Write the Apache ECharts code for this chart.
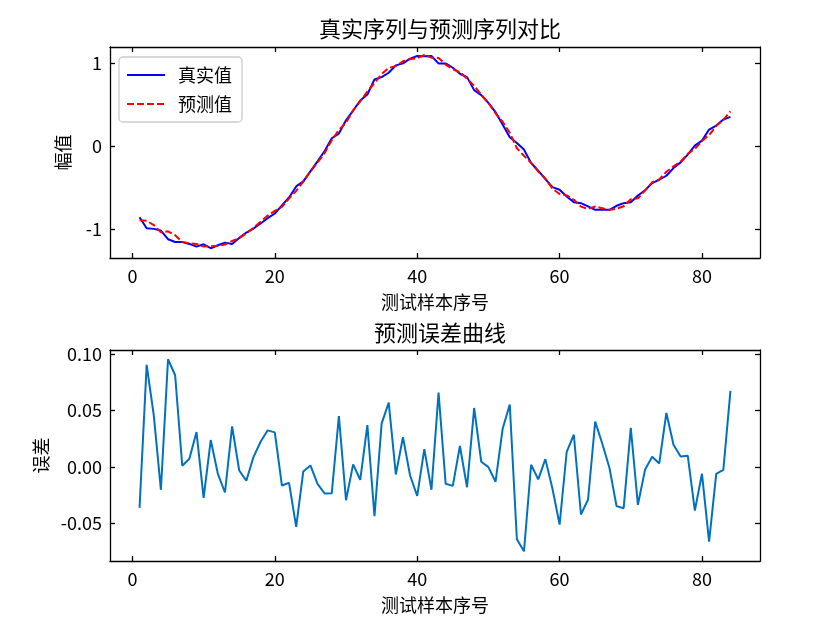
<!DOCTYPE html>
<html>
<head>
<meta charset="utf-8">
<script src="https://cdn.jsdelivr.net/npm/echarts@6/dist/echarts.min.js"></script>
<style>
html, body { margin: 0; padding: 0; background: #fff; }
#main { width: 840px; height: 630px; }
</style>
</head>
<body>
<div id="main"></div>
<script>
// 真实值
var trueVals = [
  -0.857, -0.990, -0.998, -1.018, -1.123, -1.156, -1.156, -1.180, -1.212, -1.184,
  -1.232, -1.196, -1.164, -1.180, -1.107, -1.042, -0.994, -0.933, -0.869, -0.812,
  -0.715, -0.618, -0.485, -0.424, -0.303, -0.182, -0.057, 0.097, 0.154, 0.315,
  0.432, 0.554, 0.626, 0.808, 0.836, 0.889, 0.978, 1.002, 1.059, 1.091,
  1.087, 1.091, 1.002, 1.002, 0.949, 0.877, 0.836, 0.679, 0.618, 0.525,
  0.412, 0.263, 0.109, 0.040, -0.040, -0.202, -0.295, -0.396, -0.493, -0.525,
  -0.606, -0.675, -0.687, -0.727, -0.768, -0.768, -0.768, -0.719, -0.687, -0.675,
  -0.594, -0.533, -0.444, -0.404, -0.356, -0.263, -0.194, -0.101, 0.008, 0.069,
  0.202, 0.251, 0.323, 0.356
];
// 预测值
var predVals = [
  -0.893, -0.900, -0.952, -1.038, -1.028, -1.075, -1.155, -1.173, -1.181, -1.212,
  -1.208, -1.202, -1.187, -1.144, -1.110, -1.054, -0.985, -0.911, -0.837, -0.781,
  -0.732, -0.632, -0.538, -0.428, -0.302, -0.197, -0.081, 0.074, 0.199, 0.285,
  0.434, 0.542, 0.663, 0.764, 0.874, 0.946, 0.971, 1.028, 1.051, 1.065,
  1.103, 1.071, 1.068, 0.987, 0.932, 0.895, 0.818, 0.731, 0.622, 0.525,
  0.399, 0.297, 0.164, -0.024, -0.115, -0.200, -0.306, -0.389, -0.513, -0.576,
  -0.593, -0.647, -0.729, -0.756, -0.728, -0.748, -0.769, -0.754, -0.724, -0.640,
  -0.628, -0.536, -0.435, -0.401, -0.308, -0.243, -0.185, -0.091, -0.031, 0.063,
  0.136, 0.245, 0.320, 0.423
];
// 预测误差 (bottom panel)
var errVals = [
  -0.0364, 0.0903, 0.0456, -0.0204, 0.0953, 0.0811, 0.0009, 0.0071, 0.0308, -0.0275,
  0.0237, -0.0062, -0.0228, 0.0358, -0.0033, -0.0124, 0.0086, 0.0222, 0.0323, 0.0305,
  -0.0166, -0.0142, -0.0533, -0.0041, 0.0012, -0.0151, -0.0237, -0.0234, 0.0450, -0.0296,
  0.0021, -0.0115, 0.0370, -0.0438, 0.0382, 0.0568, -0.0068, 0.0263, -0.0077, -0.0258,
  0.0157, -0.0204, 0.0657, -0.0151, -0.0169, 0.0184, -0.0181, 0.0521, 0.0044, -0.0003,
  -0.0133, 0.0337, 0.0551, -0.0642, -0.0749, 0.0018, -0.0112, 0.0068, -0.0195, -0.0512,
  0.0133, 0.0284, -0.0423, -0.0290, 0.0400, 0.0204, -0.0009, -0.0349, -0.0367, 0.0346,
  -0.0337, -0.0027, 0.0089, 0.0030, 0.0477, 0.0195, 0.0092, 0.0098, -0.0388, -0.0062,
  -0.0663, -0.0062, -0.0027, 0.0672
];
var xTicks = [0, 20, 40, 60, 80];
var yTicksTop = [-1, 0, 1];
var yTicksBottom = [-0.05, 0, 0.05, 0.1];

var FONT = '"Noto Sans CJK SC", "Noto Sans", sans-serif';

function pairs(vals) {
  var out = [];
  for (var i = 0; i < vals.length; i++) {
    out.push([i + 1, vals[i]]);
  }
  return out;
}

// one axis per side so every side gets inward ticks like the original
function makeX(grid, pos, ticks, showLabel, name) {
  return {
    type: 'value', gridIndex: grid, position: pos,
    min: -3.15, max: 88.15,
    name: name || '', nameLocation: 'middle', nameGap: 35,
    nameTextStyle: {fontFamily: FONT, fontSize: 18, color: '#000'},
    axisLine: {show: true, onZero: false, lineStyle: {color: '#000', width: 1.3}},
    axisTick: {show: true, inside: true, length: 5, customValues: ticks, lineStyle: {color: '#000', width: 1.3}},
    axisLabel: {show: showLabel, customValues: ticks, margin: 9, fontFamily: FONT, fontSize: 18, color: '#000'},
    splitLine: {show: false}
  };
}

function makeY(grid, pos, min, max, ticks, showLabel, name, fmt) {
  return {
    type: 'value', gridIndex: grid, position: pos,
    min: min, max: max,
    name: name || '', nameLocation: 'middle', nameGap: 38,
    nameTextStyle: {fontFamily: FONT, fontSize: 18, color: '#000'},
    axisLine: {show: true, onZero: false, lineStyle: {color: '#000', width: 1.3}},
    axisTick: {show: true, inside: true, length: 5, customValues: ticks, lineStyle: {color: '#000', width: 1.3}},
    axisLabel: {show: showLabel, customValues: ticks, margin: 8, fontFamily: FONT, fontSize: 18, color: '#000', formatter: fmt},
    splitLine: {show: false}
  };
}

var myChart = echarts.init(document.getElementById('main'), null, {renderer: 'canvas'});

var option = {
  backgroundColor: '#fff',
  animation: false,
  title: [
    {text: '真实序列与预测序列对比', left: 435, top: 13, textAlign: 'center',
     textStyle: {fontFamily: FONT, fontSize: 22, fontWeight: 'normal', color: '#000'}},
    {text: '预测误差曲线', left: 435, top: 317, textAlign: 'center',
     textStyle: {fontFamily: FONT, fontSize: 22, fontWeight: 'normal', color: '#000'}}
  ],
  legend: {
    orient: 'vertical',
    left: 119, top: 57,
    padding: [9, 10, 9, 7],
    itemGap: 11,
    itemWidth: 38, itemHeight: 14,
    backgroundColor: 'rgba(255,255,255,0.8)',
    borderColor: '#cccccc', borderWidth: 1.3, borderRadius: 4,
    itemStyle: {opacity: 0},
    textStyle: {fontFamily: FONT, fontSize: 18, color: '#000', padding: [0, 0, 0, 8]},
    data: ['真实值', '预测值']
  },
  grid: [
    {left: 110, top: 47, width: 650, height: 211},
    {left: 110, top: 350, width: 650, height: 211}
  ],
  xAxis: [
    makeX(0, 'bottom', xTicks, true, '测试样本序号'),
    makeX(0, 'top', xTicks, false),
    makeX(1, 'bottom', xTicks, true, '测试样本序号'),
    makeX(1, 'top', xTicks, false)
  ],
  yAxis: [
    makeY(0, 'left', -1.35, 1.2, yTicksTop, true, '幅值', function (v) { return String(v); }),
    makeY(0, 'right', -1.35, 1.2, yTicksTop, false),
    makeY(1, 'left', -0.0835, 0.1035, yTicksBottom, true, '误差', function (v) { return v.toFixed(2); }),
    makeY(1, 'right', -0.0835, 0.1035, yTicksBottom, false)
  ],
  series: [
    {
      name: '真实值', type: 'line', xAxisIndex: 0, yAxisIndex: 0,
      data: pairs(trueVals), showSymbol: false, symbol: 'none',
      color: '#0000ff',
      lineStyle: {color: '#0000ff', width: 2}
    },
    {
      name: '预测值', type: 'line', xAxisIndex: 0, yAxisIndex: 0,
      data: pairs(predVals), showSymbol: false, symbol: 'none',
      color: '#ff0000',
      lineStyle: {color: '#ff0000', width: 2, type: [7, 3]}
    },
    {
      name: '误差', type: 'line', xAxisIndex: 2, yAxisIndex: 2,
      data: pairs(errVals), showSymbol: false, symbol: 'none',
      color: '#0072bd',
      lineStyle: {color: '#0072bd', width: 2}
    }
  ]
};

myChart.setOption(option);
</script>
</body>
</html>
